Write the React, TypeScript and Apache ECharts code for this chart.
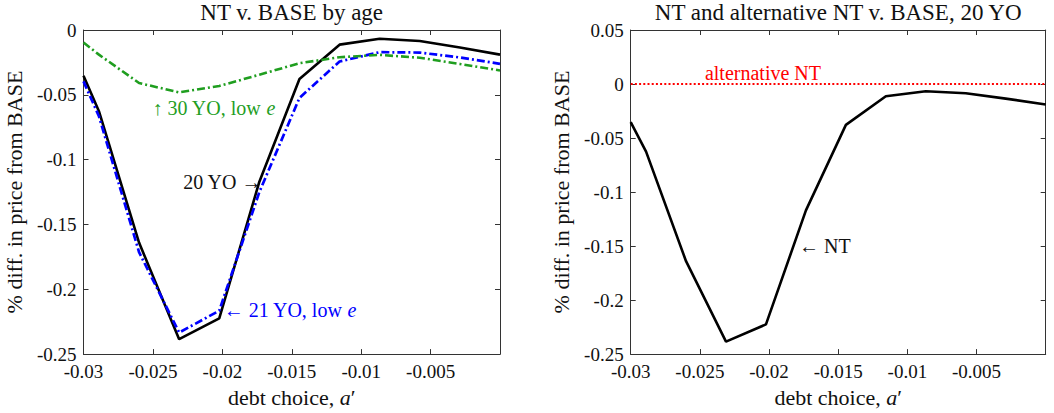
import React, { useEffect, useRef } from 'react';
import * as echarts from 'echarts';

// debt choice grid a'
const debtChoice = [-0.03, -0.028889, -0.026, -0.023111, -0.020222, -0.017333, -0.014444, -0.011556, -0.008667, -0.005778, -0.002889, 0];
// % diff. in price from BASE
const nt20YO = [-0.0353, -0.0626, -0.1640, -0.2385, -0.2225, -0.1170, -0.0378, -0.0113, -0.0067, -0.0085, -0.0135, -0.0190];
const nt21YOLowE = [-0.0396, -0.0665, -0.1713, -0.2334, -0.2165, -0.1250, -0.0524, -0.0243, -0.0171, -0.0174, -0.0212, -0.0261];
const nt30YOLowE = [-0.0097, -0.0190, -0.0409, -0.0481, -0.0432, -0.0345, -0.0256, -0.0210, -0.0192, -0.0214, -0.0262, -0.0312];
const altNT20YO = [0, 0, 0, 0, 0, 0, 0, 0, 0, 0, 0, 0];

const titles = ['NT v. BASE by age', 'NT and alternative NT v. BASE, 20 YO'];
const xRange = [-0.03, 0];
const xStep = 0.005;
const yRangeLeft = [-0.25, 0];
const yRangeRight = [-0.25, 0.05];
const yStep = 0.05;

const FONT = 'Liberation Serif';
const AXIS_COLOR = '#333333';

const pairs = (ys: number[]) => debtChoice.map((x, i) => [x, ys[i]]);

function App() {
  const ref = useRef<HTMLDivElement>(null);
  useEffect(() => {
    if (!ref.current) return;
    const chart = echarts.init(ref.current, null, { renderer: 'svg' });

    const grids = [
      { left: 83.5, top: 30, width: 416.5, height: 326 },
      { left: 630.7, top: 30, width: 415, height: 326 },
    ];

    const fmtX = (v: number) => (Math.abs(v) < 1e-9 ? '' : '{t|' + String(+v.toFixed(4)) + '}');
    const fmtY = (v: number) => '{t|' + String(+v.toFixed(4)) + '}';

    const txt = (size: number, color = '#111') => ({
      fontFamily: FONT,
      fontSize: size,
      fontWeight: 'normal',
      fontStyle: 'normal',
      color,
    });

    const mkX = (gridIndex: number, position: 'bottom' | 'top') => ({
      type: 'value',
      gridIndex,
      position,
      min: xRange[0],
      max: xRange[1],
      interval: xStep,
      splitLine: { show: false },
      axisLine: { show: true, onZero: false, lineStyle: { color: AXIS_COLOR, width: 1 } },
      axisTick: { show: true, inside: true, length: 5, lineStyle: { color: AXIS_COLOR } },
      axisLabel: {
        show: position === 'bottom',
        formatter: fmtX,
        ...txt(19),
        rich: { t: txt(19) },
        margin: 8,
      },
      name: position === 'bottom' ? '{n|debt choice, }{it|a}{n|′}' : '',
      nameLocation: 'middle',
      nameGap: 31,
      nameTextStyle: {
        ...txt(22),
        rich: { n: txt(22), it: { ...txt(22), fontStyle: 'italic' } },
      },
    });

    const mkY = (gridIndex: number, position: 'left' | 'right', range: number[]) => ({
      type: 'value',
      gridIndex,
      position,
      min: range[0],
      max: range[1],
      interval: yStep,
      splitLine: { show: false },
      axisLine: { show: true, onZero: false, lineStyle: { color: AXIS_COLOR, width: 1 } },
      axisTick: { show: true, inside: true, length: 5, lineStyle: { color: AXIS_COLOR } },
      axisLabel: {
        show: position === 'left',
        formatter: fmtY,
        ...txt(19),
        rich: { t: txt(19) },
        margin: 7,
      },
      name: position === 'left' ? '{n|% diff. in price from BASE}' : '',
      nameLocation: 'middle',
      nameGap: 58,
      nameRotate: 90,
      nameTextStyle: { ...txt(22), rich: { n: txt(22) } },
    });

    const annot = (x: number, y: number, text: string, color: string, align: string) => ({
      coord: [x, y],
      symbol: 'circle',
      symbolSize: 0,
      label: {
        show: true,
        position: 'inside',
        align,
        verticalAlign: 'middle',
        formatter: text,
        ...txt(20, color),
        rich: { n: txt(20, color), it: { ...txt(20, color), fontStyle: 'italic' } },
      },
    });

    const GREEN = '#1f9e1f';
    const BLUE = '#0000ff';
    const RED = '#ff0000';

    const option = {
      animation: false,
      textStyle: { fontFamily: FONT },
      title: [
        {
          text: titles[0],
          left: 291.7,
          top: 1,
          textAlign: 'center',
          padding: 0,
          textStyle: txt(23),
        },
        {
          text: titles[1],
          left: 838.2,
          top: 1,
          textAlign: 'center',
          padding: 0,
          textStyle: txt(23),
        },
      ],
      grid: grids,
      xAxis: [mkX(0, 'bottom'), mkX(0, 'top'), mkX(1, 'bottom'), mkX(1, 'top')],
      yAxis: [
        mkY(0, 'left', yRangeLeft),
        mkY(0, 'right', yRangeLeft),
        mkY(1, 'left', yRangeRight),
        mkY(1, 'right', yRangeRight),
      ],
      series: [
        {
          name: '20 YO',
          type: 'line',
          xAxisIndex: 0,
          yAxisIndex: 0,
          data: pairs(nt20YO),
          symbol: 'none',
          lineStyle: { color: '#000', width: 2.6 },
          markPoint: {
            data: [annot(-0.01718, -0.1173, '{n|20 YO →}', '#111', 'right')],
          },
        },
        {
          name: '21 YO, low e',
          type: 'line',
          xAxisIndex: 0,
          yAxisIndex: 0,
          data: pairs(nt21YOLowE),
          symbol: 'none',
          lineStyle: { color: BLUE, width: 2.7, type: [8, 3, 2, 3] },
          markPoint: {
            data: [annot(-0.0199, -0.2163, '{n|← 21 YO, low }{it|e}', BLUE, 'left')],
          },
        },
        {
          name: '30 YO, low e',
          type: 'line',
          xAxisIndex: 0,
          yAxisIndex: 0,
          data: pairs(nt30YOLowE),
          symbol: 'none',
          lineStyle: { color: GREEN, width: 2.6, type: [8, 3, 2, 3] },
          markPoint: {
            data: [annot(-0.02503, -0.0598, '{n|↑ 30 YO, low }{it|e}', GREEN, 'left')],
          },
        },
        {
          name: 'NT',
          type: 'line',
          xAxisIndex: 2,
          yAxisIndex: 2,
          data: pairs(nt20YO),
          symbol: 'none',
          lineStyle: { color: '#000', width: 2.6 },
          markPoint: {
            data: [annot(-0.01783, -0.1497, '{n|← NT}', '#111', 'left')],
          },
        },
        {
          name: 'alternative NT',
          type: 'line',
          xAxisIndex: 2,
          yAxisIndex: 2,
          data: pairs(altNT20YO),
          symbol: 'none',
          lineStyle: { color: RED, width: 2.2, type: [2, 2.2] },
          markPoint: {
            data: [annot(-0.02044, 0.0104, '{n|alternative NT}', RED, 'center')],
          },
        },
      ],
    };

    chart.setOption(option as any);
    return () => chart.dispose();
  }, []);

  return (
    <div
      ref={ref}
      style={{ position: 'absolute', left: 0, top: 0, width: 1054, height: 413, background: '#fff' }}
    />
  );
}

export default App;
